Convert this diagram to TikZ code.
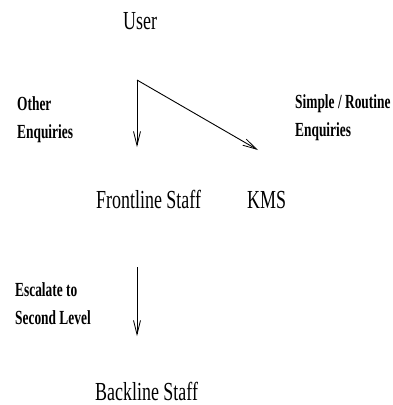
\documentclass[tikz,border=0pt]{standalone}
\usepackage{fontspec}
\usetikzlibrary{arrows.meta}
% Narrow serif faces for the labels
\newfontfamily\headfont[FakeStretch=0.69]{Liberation Serif}
\newfontfamily\notefont[FakeStretch=0.67]{Liberation Serif Bold}
\begin{document}
\begin{tikzpicture}[x=1pt,y=-1pt,
  actor/.style={anchor=base west,inner sep=0pt,font=\headfont\fontsize{26}{30}\selectfont},
  note/.style={anchor=base west,inner sep=0pt,align=left,
    font=\notefont\fontsize{20}{27.5}\selectfont},
  flow/.style={line width=0.9pt,-{Straight Barb[length=14pt,width=7pt,line width=0.8pt]}}]
  \useasboundingbox (0,0) rectangle (393,405);
  % participants
  \node[actor] (user) at (123,29) {User};
  \node[actor] (front) at (96,208) {Frontline Staff};
  \node[actor] (kms) at (247,208) {KMS};
  \node[actor] (back) at (95,400) {Backline Staff};
  % routing notes (placed by the baseline of their last line)
  \node[note] (other) at (17,138) {Other\\Enquiries};
  \node[note] (simple) at (295,136) {Simple / Routine\\Enquiries};
  \node[note] (esc) at (15,324) {Escalate to\\Second Level};
  % connector end points
  \coordinate (split) at (137,80);
  \coordinate (tofront) at (137,147);
  \coordinate (tokms) at (258,150);
  \coordinate (escstart) at (137,267);
  \coordinate (toback) at (137,336);
  \draw[flow] (split) -- (tofront);
  \draw[flow] (split) -- (tokms);
  \draw[flow] (escstart) -- (toback);
\end{tikzpicture}
\end{document}
